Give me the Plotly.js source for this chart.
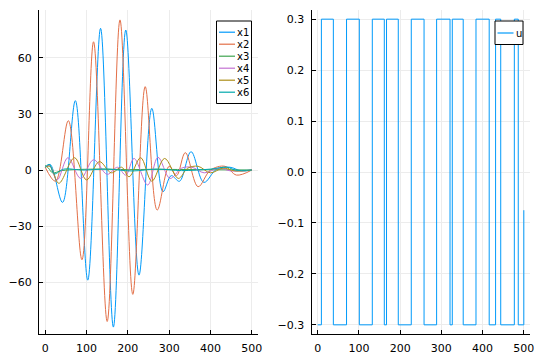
<!DOCTYPE html>
<html>
<head>
<meta charset="utf-8">
<script src="https://cdn.plot.ly/plotly-3.0.1.min.js"></script>
<style>html,body{margin:0;padding:0;background:#fff;}#chart{width:540px;height:360px;}</style>
</head>
<body>
<div id="chart"></div>
<script>
// ---- data (extrema of each trace) ----
var x1T = [0, 12, 42, 73, 103, 134, 165, 195, 227, 258, 285, 305, 325, 353, 384, 415, 447, 475, 500];
var x1V = [1.5, 3, -17.3, 37.1, -58.9, 75.8, -84, 74.9, -56.2, 33, -11.6, -3, -6, 9.8, -6.6, 0.5, 1.5, -0.5, 0];
var x2T = [0, 25, 56, 89, 117, 150, 181, 212, 242, 271, 300, 318, 339, 370, 400, 435, 463, 500];
var x2V = [1.5, -6, 26.4, -48, 68.6, -81, 80.3, -66.5, 44.6, -21.4, 2, -3, 9.3, -8.9, 0, 2, -2.7, 0];
var x3T = [0, 8, 18, 40, 80, 140, 200, 260, 320, 380, 440, 500];
var x3V = [2.5, 1, -1.5, -0.3, 0.3, 0.5, 0.2, 0.4, 0.3, 0.2, 0.1, 0];
var x4T = [0, 10, 29, 55, 86, 117, 150, 175, 195, 215, 248, 273, 302, 330, 355, 385, 420, 450, 500];
var x4V = [1.5, 2.5, -5.3, 6.6, -4.5, 5.5, -2.3, 1.5, -2.7, 6.2, -8, 6.8, -4.5, 1, 1.5, -1.5, 1, -0.5, 0];
var x5T = [0, 12, 33, 71, 100, 131, 160, 185, 203, 231, 258, 289, 322, 345, 370, 400, 430, 460, 500];
var x5V = [1.5, 2, -7.1, 6.6, -5.3, 4.5, -1.5, 1.5, -3.6, 6.6, -6, 6.2, -4.5, 1, 2, -1.5, 1, -0.5, 0];
var x6T = [0, 10, 22, 45, 90, 150, 210, 270, 330, 400, 440, 460, 500];
var x6V = [1.5, 3, -2, 0.5, 0, 0.5, -0.5, 0.5, -0.3, 0.5, 1.5, 0, 0];
var uT = [0, 9, 38, 70, 101, 132.5, 161.6, 167, 195.5, 227, 258, 288.5, 321, 326.5, 353, 384, 416, 431.5, 444, 477, 486.5, 498, 500];
var uV = [-0.3, 0.3, -0.3, 0.3, -0.3, 0.3, -0.3, 0.3, -0.3, 0.3, -0.3, 0.3, -0.3, 0.3, -0.3, 0.3, -0.3, 0.3, -0.3, 0.3, -0.3, -0.3, -0.075];
var xNames = ['x1', 'x2', 'x3', 'x4', 'x5', 'x6'];
var uName = 'u';
var palette = ['#009AFA', '#E36F47', '#3EA44E', '#C371D2', '#AC8E18', '#00A9AD'];
var xTicks = [0, 100, 200, 300, 400, 500];
var yTicksL = [-60, -30, 0, 30, 60];
var yTicksR = [-0.3, -0.2, -0.1, 0.0, 0.1, 0.2, 0.3];
var yTicksRText = ['\u22120.3', '\u22120.2', '\u22120.1', '0.0', '0.1', '0.2', '0.3'];

var W = 540, H = 360;
function px(x) { return x / W; }
function py(y) { return 1 - y / H; }

var tsets = [[x1T, x1V], [x2T, x2V], [x3T, x3V], [x4T, x4V], [x5T, x5V], [x6T, x6V]];
var traces = tsets.map(function (p, i) {
  return {
    x: p[0], y: p[1], type: 'scatter', mode: 'lines', name: xNames[i],
    line: {color: palette[i], width: 1, shape: 'spline', smoothing: 1},
    xaxis: 'x', yaxis: 'y', showlegend: false
  };
});
traces.push({
  x: uT, y: uV, type: 'scatter', mode: 'lines', name: uName,
  line: {color: palette[0], width: 1, shape: 'hv'},
  xaxis: 'x2', yaxis: 'y2', showlegend: false
});

// compact legends in the style of the reference (box, short line sample, label)
var shapes = [], annotations = [];
var lf = {family: 'DejaVu Sans, sans-serif', size: 10, color: '#000'};
function legendBox(x0, y0, x1, y1) {
  shapes.push({type: 'rect', xref: 'paper', yref: 'paper', x0: px(x0), x1: px(x1), y0: py(y1), y1: py(y0),
    line: {color: '#000', width: 1}, fillcolor: '#fff', layer: 'above'});
}
function legendItem(xl, y, name, color) {
  shapes.push({type: 'line', xref: 'paper', yref: 'paper', x0: px(xl), x1: px(xl + 16), y0: py(y), y1: py(y),
    line: {color: color, width: 1.2}, layer: 'above'});
  annotations.push({xref: 'paper', yref: 'paper', x: px(xl + 17), y: py(y), xanchor: 'left', yanchor: 'middle',
    text: name, showarrow: false, font: lf, borderpad: 0});
}
legendBox(216.5, 21, 251.5, 103.5);
xNames.forEach(function (n, i) { legendItem(219, 32.2 + 12 * i, n, palette[i]); });
legendBox(495, 21, 523, 44.5);
legendItem(497.5, 33, uName, palette[0]);

var fnt = {family: 'DejaVu Sans, sans-serif', size: 11, color: '#000'};
function ax(extra) {
  var a = {
    showline: true, linecolor: '#000', linewidth: 1, mirror: false,
    ticks: 'inside', ticklen: 4, tickcolor: '#000', tickwidth: 1,
    showgrid: true, gridcolor: '#ececec', gridwidth: 1, zeroline: false,
    tickfont: fnt, ticklabelstandoff: 4, fixedrange: true
  };
  for (var k in extra) a[k] = extra[k];
  return a;
}
var layout = {
  width: W, height: H,
  margin: {l: 0, r: 0, t: 0, b: 0},
  paper_bgcolor: '#fff', plot_bgcolor: '#fff',
  font: fnt,
  showlegend: false,
  xaxis: ax({domain: [39 / W, 258 / W], range: [-15, 515], tickvals: xTicks, anchor: 'y'}),
  yaxis: ax({domain: [1 - 334 / H, 1 - 10 / H], range: [-87.7, 85.6], tickvals: yTicksL, anchor: 'x'}),
  xaxis2: ax({domain: [311.5 / W, 530 / W], range: [-15, 515], tickvals: xTicks, anchor: 'y2'}),
  yaxis2: ax({domain: [1 - 334 / H, 1 - 10 / H], range: [-0.318, 0.318], tickvals: yTicksR, ticktext: yTicksRText, anchor: 'x2'}),
  shapes: shapes,
  annotations: annotations
};
Plotly.newPlot('chart', traces, layout, {displayModeBar: false, staticPlot: true});
</script>
</body>
</html>
